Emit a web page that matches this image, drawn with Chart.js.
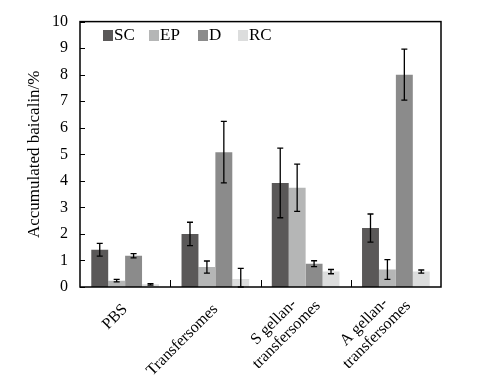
<!DOCTYPE html>
<html>
<head>
<meta charset="utf-8">
<script src="https://cdn.jsdelivr.net/npm/chart.js@4"></script>
<style>
  html, body { margin: 0; padding: 0; background: #fff; }
  #wrap { width: 501px; height: 381px; }
</style>
</head>
<body>
<div id="wrap"><canvas id="chart" width="501" height="381"></canvas></div>
<script>
// --- data ---
const groups = ['PBS', 'Transfersomes', ['S gellan-', 'transfersomes'], ['A gellan-', 'transfersomes']];
const seriesNames = ['SC', 'EP', 'D', 'RC'];
const seriesColors = ['#5a5858', '#b5b6b6', '#8b8b8b', '#dcdddd'];

const scValues = [1.40, 2.00, 3.92, 2.22];
const epValues = [0.24, 0.75, 3.74, 0.66];
const dValues  = [1.18, 5.08, 0.88, 8.00];
const rcValues = [0.10, 0.30, 0.58, 0.58];

const scErr = [0.24, 0.44, 1.31, 0.53];
const epErr = [0.05, 0.23, 0.89, 0.37];
const dErr  = [0.08, 1.16, 0.11, 0.96];
const rcErr = [0.03, 0.40, 0.08, 0.06];

const yTicks = [0, 1, 2, 3, 4, 5, 6, 7, 8, 9, 10];
const yTitle = 'Accumulated baicalin/%';

const allValues = [scValues, epValues, dValues, rcValues];
const allErrors = [scErr, epErr, dErr, rcErr];

const FONT = '"Liberation Serif", "Times New Roman", serif';

// error bars, frame, inner ticks, rotated group labels and legend inside the plot
const decorPlugin = {
    id: 'decor',
    afterDatasetsDraw(chart) {
        const ctx = chart.ctx;
        const y = chart.scales.y;
        const x = chart.scales.x;
        const area = chart.chartArea;

        // error bars
        ctx.save();
        ctx.strokeStyle = '#000';
        ctx.lineWidth = 1.3;
        chart.data.datasets.forEach((ds, di) => {
            const meta = chart.getDatasetMeta(di);
            meta.data.forEach((bar, i) => {
                const v = ds.data[i], e = allErrors[di][i];
                const yTop = y.getPixelForValue(v + e);
                const yBot = y.getPixelForValue(Math.max(0, v - e));
                ctx.beginPath();
                ctx.moveTo(bar.x, yTop); ctx.lineTo(bar.x, yBot);
                ctx.moveTo(bar.x - 3, yTop); ctx.lineTo(bar.x + 3, yTop);
                ctx.moveTo(bar.x - 3, yBot); ctx.lineTo(bar.x + 3, yBot);
                ctx.stroke();
            });
        });
        ctx.restore();

        // frame
        ctx.save();
        ctx.strokeStyle = '#000';
        ctx.lineWidth = 1.5;
        ctx.strokeRect(area.left, area.top, area.right - area.left, area.bottom - area.top);

        // y ticks pointing inward
        ctx.lineWidth = 1;
        ctx.beginPath();
        yTicks.forEach(t => {
            const py = Math.round(y.getPixelForValue(t)) + 0.5;
            ctx.moveTo(area.left, py); ctx.lineTo(area.left + 5, py);
        });
        // x ticks between groups, pointing up
        for (let i = 0; i < groups.length - 1; i++) {
            const px = Math.round((x.getPixelForValue(i) + x.getPixelForValue(i + 1)) / 2) + 0.5;
            ctx.moveTo(px, area.bottom); ctx.lineTo(px, area.bottom - 7);
        }
        ctx.stroke();

        // group labels, rotated 45deg, lines centred on each other
        ctx.font = '16px ' + FONT;
        ctx.fillStyle = '#000';
        ctx.textAlign = 'center';
        ctx.textBaseline = 'middle';
        const lh = 18;
        groups.forEach((g, i) => {
            const lines = Array.isArray(g) ? g : [g];
            const n = lines.length;
            const blockW = Math.max(...lines.map(l => ctx.measureText(l).width));
            const ox = x.getPixelForValue(i) + 6 * (n - 1);
            const oy = area.bottom + 20 - 10 * (n - 1);
            ctx.save();
            ctx.translate(ox, oy);
            ctx.rotate(-Math.PI / 4);
            lines.forEach((l, k) => {
                ctx.fillText(l, -blockW / 2, (k - (n - 1) / 2) * lh);
            });
            ctx.restore();
        });

        // legend
        const legendX = [103, 149, 198, 238];
        const ly = 30;
        ctx.font = '17px ' + FONT;
        ctx.textAlign = 'left';
        ctx.textBaseline = 'middle';
        seriesNames.forEach((name, i) => {
            ctx.fillStyle = seriesColors[i];
            ctx.fillRect(legendX[i], ly, 10, 11);
            ctx.fillStyle = '#000';
            ctx.fillText(name, legendX[i] + 11, ly + 6);
        });
        ctx.restore();
    }
};

new Chart(document.getElementById('chart'), {
    type: 'bar',
    data: {
        labels: groups,
        datasets: seriesNames.map((name, i) => ({
            label: name,
            data: allValues[i],
            backgroundColor: seriesColors[i],
            borderWidth: 0,
            categoryPercentage: 0.75,
            barPercentage: 1.0
        }))
    },
    options: {
        responsive: false,
        animation: false,
        layout: { padding: { top: 16, right: 60, left: 24, bottom: 0 } },
        plugins: { legend: { display: false }, tooltip: { enabled: false } },
        scales: {
            x: {
                grid: { display: false, drawTicks: false },
                border: { display: false },
                ticks: { display: false },
                afterFit: s => { s.height = 381 - 287; }
            },
            y: {
                min: 0, max: 10,
                grid: { display: false, drawTicks: false },
                border: { display: false },
                ticks: {
                    color: '#000',
                    stepSize: 1,
                    font: { family: FONT, size: 16 },
                    padding: 12
                },
                title: {
                    display: true, text: yTitle, color: '#000',
                    font: { family: FONT, size: 17 },
                    padding: { top: 0, bottom: 0 }
                },
                afterFit: s => { s.width = 56; }
            }
        }
    },
    plugins: [decorPlugin]
});
</script>
</body>
</html>
